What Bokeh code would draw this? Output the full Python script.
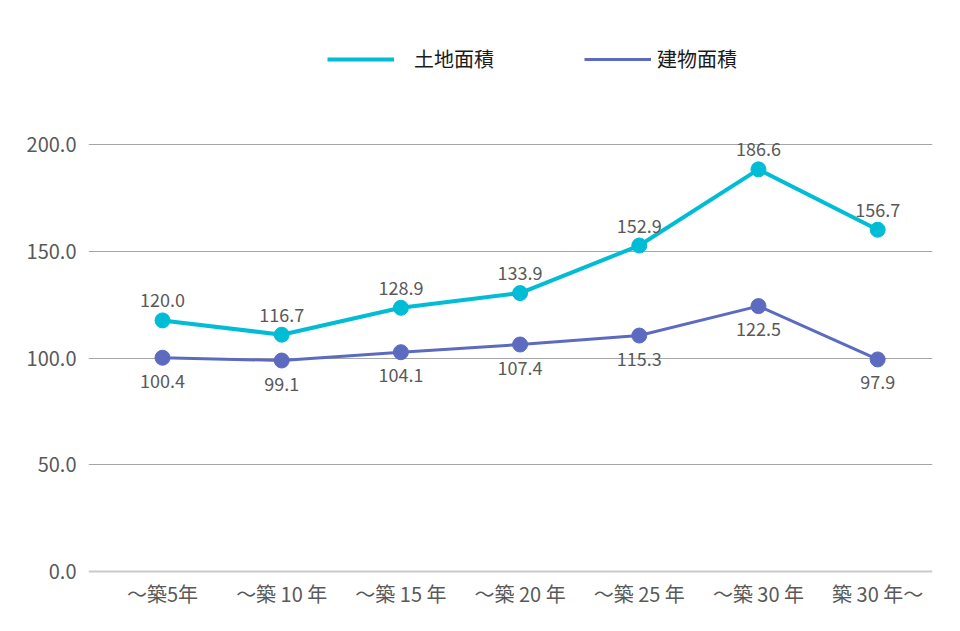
from bokeh.plotting import figure
from bokeh.models import (ColumnDataSource, Range1d, FixedTicker, Span, Legend, LegendItem)
from bokeh.core.properties import value
from bokeh.embed import file_html
from bokeh.resources import INLINE

# ---- data ----
categories = ["～築5年", "～築 10 年", "～築 15 年", "～築 20 年", "～築 25 年", "～築 30 年", "築 30 年～"]
land_plotted = [117.7, 111.0, 123.6, 130.5, 152.8, 188.5, 160.2]
land_labels = [120.0, 116.7, 128.9, 133.9, 152.9, 186.6, 156.7]
bldg_plotted = [100.2, 98.9, 102.8, 106.4, 110.6, 124.4, 99.4]
bldg_labels = [100.4, 99.1, 104.1, 107.4, 115.3, 122.5, 97.9]
y_ticks = [0, 50, 100, 150, 200]
series_names = ["土地面積", "建物面積"]

CYAN = "#00BCD4"
INDIGO = "#5C6BC0"
TXT = "#595959"
FONT = "Noto Sans CJK JP"

xs = list(range(len(categories)))
land_src = ColumnDataSource(dict(x=xs, y=land_plotted, t=[f"{v:.1f}" for v in land_labels]))
bldg_src = ColumnDataSource(dict(x=xs, y=bldg_plotted, t=[f"{v:.1f}" for v in bldg_labels]))

p = figure(width=944, height=615, output_backend="svg", toolbar_location=None,
           x_range=Range1d(-0.621, 6.46), y_range=Range1d(-1.875, 248.9),
           min_border_left=88, min_border_right=12, min_border_top=40, min_border_bottom=40)
p.outline_line_color = None
p.background_fill_color = "white"
p.border_fill_color = "white"

# axes
p.xaxis.ticker = FixedTicker(ticks=xs)
p.xaxis.major_label_overrides = {i: c for i, c in enumerate(categories)}
p.yaxis.ticker = FixedTicker(ticks=y_ticks)
p.yaxis.major_label_overrides = {v: f"{v:.1f}" for v in y_ticks}
for ax in (p.xaxis, p.yaxis):
    ax.axis_line_color = None
    ax.major_tick_line_color = None
    ax.minor_tick_line_color = None
    ax.major_label_text_color = TXT
    ax.major_label_text_font = FONT
p.xaxis.major_label_text_font_size = "20px"
p.yaxis.major_label_text_font_size = "20px"
p.xaxis.major_label_standoff = -3
p.yaxis.major_label_standoff = 6

p.xgrid.grid_line_color = None
p.ygrid.ticker = FixedTicker(ticks=[50, 100, 150, 200])
p.ygrid.grid_line_color = "#a6a6a6"
p.ygrid.grid_line_width = 1
p.add_layout(Span(location=0, dimension="width", line_color="#c9c9c9", line_width=2))

# series
l1 = p.line("x", "y", source=land_src, line_color=CYAN, line_width=4)
p.scatter("x", "y", source=land_src, size=15, fill_color=CYAN, line_color=CYAN)
l2 = p.line("x", "y", source=bldg_src, line_color=INDIGO, line_width=3)
p.scatter("x", "y", source=bldg_src, size=15, fill_color=INDIGO, line_color=INDIGO)

p.text("x", "y", text="t", source=land_src, y_offset=-20, text_align="center",
       text_baseline="middle", text_color=TXT, text_font=value(FONT), text_font_size="18px")
p.text("x", "y", text="t", source=bldg_src, y_offset=23, text_align="center",
       text_baseline="middle", text_color=TXT, text_font=value(FONT), text_font_size="18px")

# legends
def make_legend(name, rend, loc, standoff):
    lg = Legend(items=[LegendItem(label=name, renderers=[rend])], location=loc,
                orientation="horizontal", padding=0, margin=0, spacing=0,
                border_line_color=None, background_fill_alpha=0,
                glyph_width=67, glyph_height=20, label_standoff=standoff,
                label_text_font=FONT, label_text_font_size="20px", label_text_color="#1a1a1a")
    p.add_layout(lg, "center")

make_legend(series_names[0], l1, (239, 502), 20)
make_legend(series_names[1], l2, (496, 502), 6)

open("out.html", "w").write(file_html(p, INLINE))
